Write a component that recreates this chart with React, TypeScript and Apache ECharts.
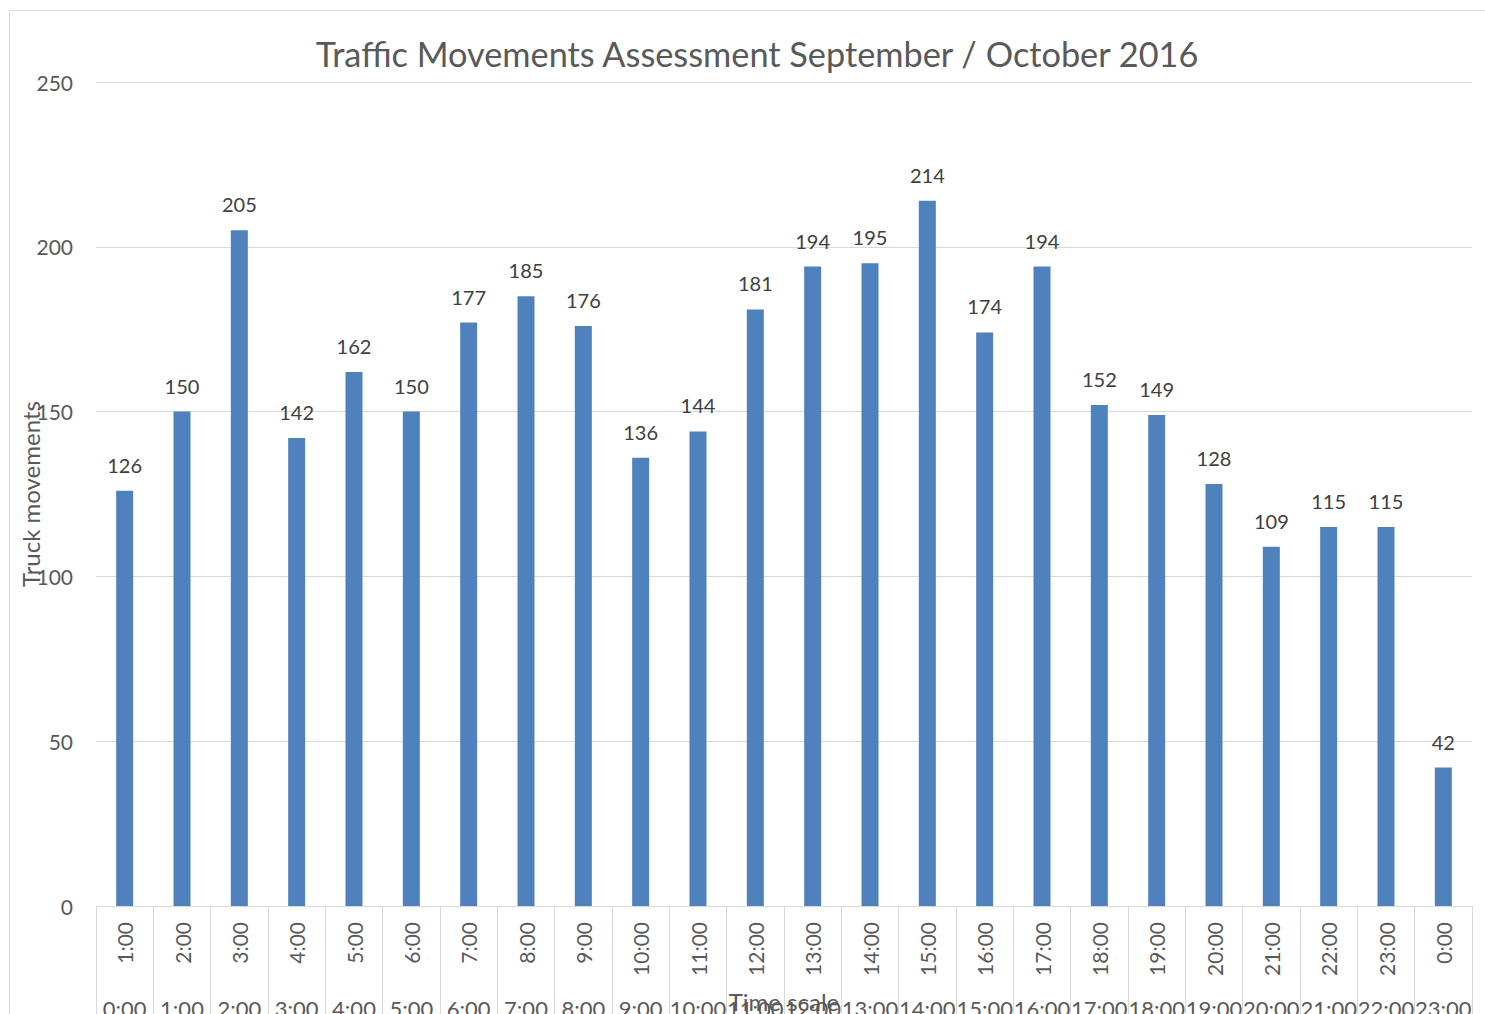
import React, { useEffect, useRef } from "react";
import * as echarts from "echarts";

const hourLabels = ["1:00","2:00","3:00","4:00","5:00","6:00","7:00","8:00","9:00","10:00","11:00","12:00","13:00","14:00","15:00","16:00","17:00","18:00","19:00","20:00","21:00","22:00","23:00","0:00"];
const startLabels = ["0:00","1:00","2:00","3:00","4:00","5:00","6:00","7:00","8:00","9:00","10:00","11:00","12:00","13:00","14:00","15:00","16:00","17:00","18:00","19:00","20:00","21:00","22:00","23:00"];
const truckMovements = [126,150,205,142,162,150,177,185,176,136,144,181,194,195,214,174,194,152,149,128,109,115,115,42];
const yTicks = { min: 0, max: 250, interval: 50 };

const FONT = "Lato, 'Open Sans', sans-serif";

export default function App() {
  const ref = useRef<HTMLDivElement>(null);
  useEffect(() => {
    document.body.style.margin = "0";
    const chart = echarts.init(ref.current!, null, { renderer: "svg" });
    chart.setOption({
      animation: false,
      backgroundColor: "#ffffff",
      textStyle: { fontFamily: FONT },
      title: {
        text: "Traffic Movements Assessment September / October 2016",
        left: 752,
        top: 31,
        textAlign: "center",
        textStyle: { fontFamily: FONT, fontSize: 34.3, fontWeight: "normal", color: "#595959" },
      },
      graphic: [
        {
          type: "rect",
          z: -10,
          silent: true,
          shape: { x: 9.5, y: 10.5, width: 1500, height: 1100 },
          style: { fill: "none", stroke: "#d9d9d9", lineWidth: 1 },
        },
      ],
      grid: { left: 96, right: 13, top: 82, bottom: 108, containLabel: false, outerBoundsMode: "none" },
      xAxis: [
        {
          type: "category",
          data: hourLabels,
          position: "bottom",
          axisLine: { show: true, lineStyle: { color: "#d9d9d9", width: 1 } },
          axisTick: { show: true, interval: 0, length: 120, lineStyle: { color: "#d9d9d9", width: 1 } },
          axisLabel: { interval: 0, rotate: 90, margin: 16, fontSize: 21, color: "#595959", fontFamily: FONT },
          name: "Time scale",
          nameLocation: "middle",
          nameGap: 83,
          nameMoveOverlap: false,
          nameTextStyle: { fontSize: 24, color: "#595959", fontFamily: FONT },
        },
        {
          type: "category",
          data: startLabels,
          position: "bottom",
          offset: 0,
          axisLine: { show: false },
          axisTick: { show: false },
          axisLabel: { interval: 0, margin: 91, fontSize: 22, color: "#595959", fontFamily: FONT },
        },
      ],
      yAxis: {
        type: "value",
        min: yTicks.min,
        max: yTicks.max,
        interval: yTicks.interval,
        axisLine: { show: false },
        axisTick: { show: false },
        axisLabel: { margin: 23, fontSize: 21, color: "#595959", fontFamily: FONT },
        splitLine: { lineStyle: { color: "#d9d9d9", width: 1 } },
        name: "Truck movements",
        nameLocation: "middle",
        nameGap: 54,
        nameMoveOverlap: false,
        nameTextStyle: { fontSize: 24, color: "#595959", fontFamily: FONT },
      },
      series: [
        {
          type: "bar",
          data: truckMovements,
          xAxisIndex: 0,
          barWidth: 17,
          itemStyle: { color: "#4f81bd" },
          label: { show: true, position: "top", distance: 16, fontSize: 20, color: "#404040", fontFamily: FONT },
        },
      ],
    });
    return () => chart.dispose();
  }, []);
  return <div ref={ref} style={{ position: "fixed", left: 0, top: 0, width: 1485, height: 1014 }} />;
}
